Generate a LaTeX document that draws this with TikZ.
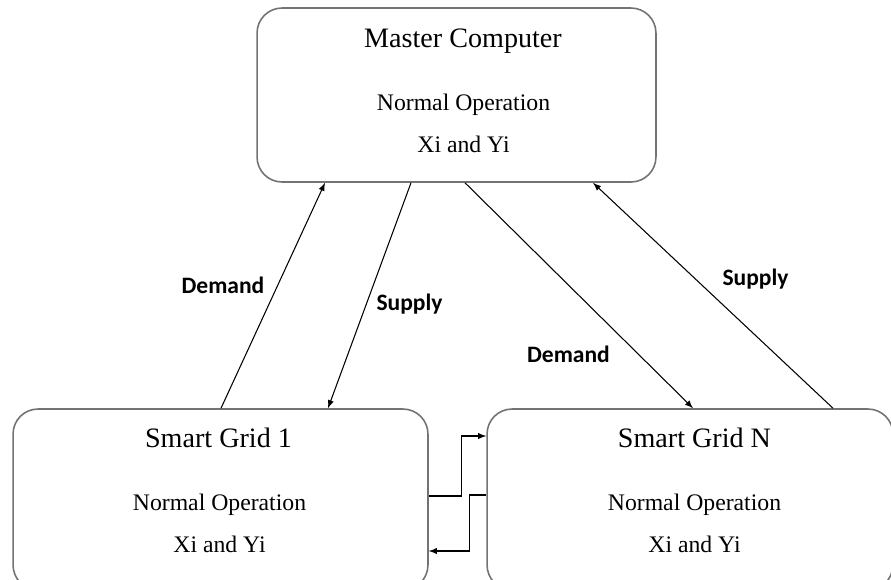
\documentclass[tikz,border=0pt]{standalone}
\usepackage{fontspec}
\setmainfont{Liberation Serif}
\newfontfamily\labelfont{Carlito}
\usepackage{xcolor}
\usepackage{pgf, tikz}
\usetikzlibrary{calc}

\begin{document}
\begin{tikzpicture}[x=0.02cm, y=-0.02cm,
        box/.style={draw=black!55, line width=0.9pt, rounded corners=0.5cm, inner sep=0pt},
        flow/.style={draw=black, line width=0.6pt, -latex},
        title/.style={anchor=base, font=\fontsize{16}{18}\selectfont},
        info/.style={anchor=base, font=\fontsize{13.5}{16}\selectfont},
        tag/.style={anchor=base, font=\labelfont\bfseries\fontsize{13.4}{15}\selectfont}]
        \clip (0, 0) rectangle (891, 579);

        \node[box, minimum width=7.98cm, minimum height=3.48cm] (master) at (456.5, 95) {};
        \node[box, minimum width=8.3cm, minimum height=3.62cm] (grid1) at (220.5, 499.5) {};
        \node[box, minimum width=8.12cm, minimum height=3.62cm] (gridN) at (690, 499.5) {};

        \node[title] (masterTitle) at (463, 47) {Master Computer};
        \node[info] (masterMode) at (463.5, 110) {Normal Operation};
        \node[info] (masterXY) at (463.5, 152) {Xi and Yi};

        \node[title] (gridOneTitle) at (218.5, 447) {Smart Grid 1};
        \node[info] (gridOneMode) at (219.5, 510) {Normal Operation};
        \node[info] (gridOneXY) at (219.5, 552) {Xi and Yi};

        \node[title] (gridNTitle) at (694.5, 447) {Smart Grid N};
        \node[info] (gridNMode) at (694.5, 510) {Normal Operation};
        \node[info] (gridNXY) at (694.5, 552) {Xi and Yi};

        \draw[flow] ($(grid1.north)+(0.5, 0)$) -- ($(master.south)+(-131.5, 0)$);
        \draw[flow] ($(master.south)+(-45.5, 0)$) -- ($(grid1.north)+(107.5, 0)$);
        \draw[flow] ($(master.south)+(8.5, 0)$) -- ($(gridN.north)+(3, 0)$);
        \draw[flow] ($(gridN.north)+(143, 0)$) -- ($(master.south)+(136.5, 0)$);

        \draw[flow] ($(grid1.east)+(0, -3.5)$) -- ++(33, 0) |- ($(gridN.west)+(0, -63.5)$);
        \draw[flow] ($(gridN.west)+(0, -4.5)$) -- ++(-17, 0) |- ($(grid1.east)+(0, 51.5)$);

        \node[tag] (demandUp) at (223, 293) {Demand};
        \node[tag] (supplyDown) at (409.5, 310) {Supply};
        \node[tag] (demandDown) at (568.5, 362) {Demand};
        \node[tag] (supplyUp) at (755.5, 285) {Supply};
\end{tikzpicture}
\end{document}
